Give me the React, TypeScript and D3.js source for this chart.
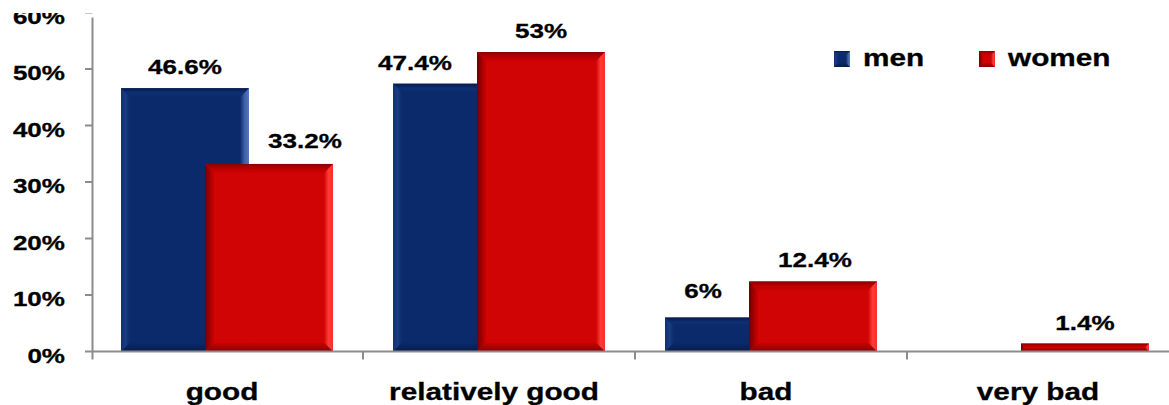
import React from "react";
import * as d3 from "d3";

// ---- data ----
const categories = ["good", "relatively good", "bad", "very bad"];
const seriesNames = ["men", "women"];
const menValues = [46.6, 47.4, 6, 0];
const womenValues = [33.2, 53, 12.4, 1.4];
const yTickValues = [0, 10, 20, 30, 40, 50, 60];

// ---- layout ----
const W = 1169;
const H = 405;
const FONT = "'Liberation Sans', Arial, sans-serif";
const SX = 1.24; // horizontal text stretch
const BAR_W = 128;
const SERIES_SHIFT = 84; // women bar starts this far right of the men bar
// label nudges [dx, dy] so overlapping labels clear the neighbouring bar
const labelNudge: Record<string, [number, number][]> = {
  men: [[0, 0], [-42, 0], [-26, -6], [0, 0]],
  women: [[36, -2], [0, 0], [2, 0], [0, 0]],
};

type Skin = {
  base: string;
  top: string[];
  bottom: string[];
  left: string[];
  right: string[];
};

const skins: Record<string, Skin> = {
  men: {
    base: "#0b2a6b",
    top: ["#061a48", "#0f2f74", "#0b2a6b"],
    bottom: ["#0b2a6b", "#08235c", "#061a48"],
    left: ["#13306f", "#1b3c84", "#0b2a6b"],
    right: ["#0b2a6b", "#3d5fa8", "#5677bd"],
  },
  women: {
    base: "#d00404",
    top: ["#8a0000", "#b80000", "#cc0202"],
    bottom: ["#cc0202", "#a80000", "#860000"],
    left: ["#6e0000", "#a00000", "#cc0202"],
    right: ["#d00404", "#ff3a3a", "#f03030"],
  },
};

const x = d3
  .scaleBand<string>()
  .domain(categories)
  .range([91, 91 + 272 * categories.length])
  .paddingInner(0)
  .paddingOuter(0);

const y = d3.scaleLinear().domain([0, 60]).range([351.5, 12.5]);

function Gradients({ id, skin }: { id: string; skin: Skin }) {
  const stops = (cols: string[]) =>
    cols.map((c, i) => (
      <stop key={i} offset={`${(i / (cols.length - 1)) * 100}%`} stopColor={c} />
    ));
  return (
    <>
      <linearGradient id={`${id}-top`} x1="0" y1="0" x2="0" y2="1">
        {stops(skin.top)}
      </linearGradient>
      <linearGradient id={`${id}-bottom`} x1="0" y1="0" x2="0" y2="1">
        {stops(skin.bottom)}
      </linearGradient>
      <linearGradient id={`${id}-left`} x1="0" y1="0" x2="1" y2="0">
        {stops(skin.left)}
      </linearGradient>
      <linearGradient id={`${id}-right`} x1="0" y1="0" x2="1" y2="0">
        {stops(skin.right)}
      </linearGradient>
    </>
  );
}

function BevelRect({
  x0,
  y0,
  w,
  h,
  id,
  bevel,
}: {
  x0: number;
  y0: number;
  w: number;
  h: number;
  id: string;
  bevel: number;
}) {
  const b = Math.min(bevel, h / 2, w / 2);
  const x1 = x0 + w;
  const y1 = y0 + h;
  const pts = (p: number[][]) => p.map((q) => q.join(",")).join(" ");
  const skin = skins[id];
  return (
    <g>
      <rect x={x0} y={y0} width={w} height={h} fill={skin.base} />
      <polygon
        points={pts([[x0, y0], [x1, y0], [x1 - b, y0 + b], [x0 + b, y0 + b]])}
        fill={`url(#${id}-top)`}
      />
      <polygon
        points={pts([[x0 + b, y1 - b], [x1 - b, y1 - b], [x1, y1], [x0, y1]])}
        fill={`url(#${id}-bottom)`}
      />
      <polygon
        points={pts([[x0, y0], [x0 + b, y0 + b], [x0 + b, y1 - b], [x0, y1]])}
        fill={`url(#${id}-left)`}
      />
      <polygon
        points={pts([[x1 - b, y0 + b], [x1, y0], [x1, y1], [x1 - b, y1 - b]])}
        fill={`url(#${id}-right)`}
      />
    </g>
  );
}

function Label({
  px,
  py,
  text,
  size,
  anchor = "middle",
}: {
  px: number;
  py: number;
  text: string;
  size: number;
  anchor?: "start" | "middle" | "end";
}) {
  return (
    <text
      transform={`translate(${px},${py}) scale(${SX},1)`}
      textAnchor={anchor}
      fontFamily={FONT}
      fontWeight="bold"
      fontSize={size}
      fill="#000"
      stroke="#000"
      strokeWidth={0.3}
    >
      {text}
    </text>
  );
}

export default function App() {
  const band = x.bandwidth();
  const groupOffset = (band - (BAR_W + SERIES_SHIFT)) / 2;
  const series = [
    { name: seriesNames[0], values: menValues, shift: 0 },
    { name: seriesNames[1], values: womenValues, shift: SERIES_SHIFT },
  ];
  const axisX = 92.5;
  const baseY = y(0);

  return (
    <svg
      width={W}
      height={H}
      viewBox={`0 0 ${W} ${H}`}
      style={{ position: "absolute", left: 0, top: 0, display: "block", background: "#fff" }}
    >
      <defs>
        <Gradients id="men" skin={skins.men} />
        <Gradients id="women" skin={skins.women} />
      </defs>
      <rect width={W} height={H} fill="#fff" />

      {/* y axis tick labels */}
      {yTickValues.map((t) => (
        <Label key={t} px={65} py={y(t) + 11} text={`${t}%`} size={21} anchor="end" />
      ))}

      {/* bars: men first, women drawn on top */}
      {series.map((s) =>
        categories.map((c, i) => {
          const v = s.values[i];
          if (!(v > 0)) return null;
          const bx = (x(c) as number) + groupOffset + s.shift;
          const by = y(v);
          return (
            <BevelRect
              key={`${s.name}-${c}`}
              x0={bx}
              y0={by}
              w={BAR_W}
              h={baseY - by}
              id={s.name}
              bevel={9}
            />
          );
        })
      )}

      {/* value labels */}
      {series.map((s) =>
        categories.map((c, i) => {
          const v = s.values[i];
          if (!(v > 0)) return null;
          const bx = (x(c) as number) + groupOffset + s.shift;
          const [dx, dy] = labelNudge[s.name][i];
          return (
            <Label
              key={`lab-${s.name}-${c}`}
              px={bx + BAR_W / 2 + dx}
              py={y(v) - 14 + dy}
              text={`${v}%`}
              size={21}
            />
          );
        })
      )}

      {/* axes */}
      <g stroke="#8c8c8c" strokeWidth={2} fill="none">
        <line x1={axisX} x2={axisX} y1={y(60) + 5} y2={baseY + 8} />
        {yTickValues.map((t) => (
          <line key={t} x1={axisX - 7.5} x2={axisX} y1={y(t)} y2={y(t)} />
        ))}
        <line x1={axisX} x2={W} y1={baseY} y2={baseY} />
        {categories.slice(1).map((c) => (
          <line key={c} x1={x(c) as number} x2={x(c) as number} y1={baseY} y2={baseY + 8} />
        ))}
      </g>

      {/* category labels */}
      {categories.map((c) => (
        <Label key={c} px={(x(c) as number) + band / 2 - 5} py={400} text={c} size={24} />
      ))}

      {/* top edge */}
      <rect x={0} y={0} width={W} height={13} fill="#fff" />

      {/* legend */}
      {seriesNames.map((n, i) => {
        const lx = 834 + i * 145;
        return (
          <g key={n}>
            <BevelRect x0={lx} y0={51} w={16} h={16} id={n} bevel={4} />
            <Label px={lx + 29} py={65.5} text={n} size={24} anchor="start" />
          </g>
        );
      })}
    </svg>
  );
}
